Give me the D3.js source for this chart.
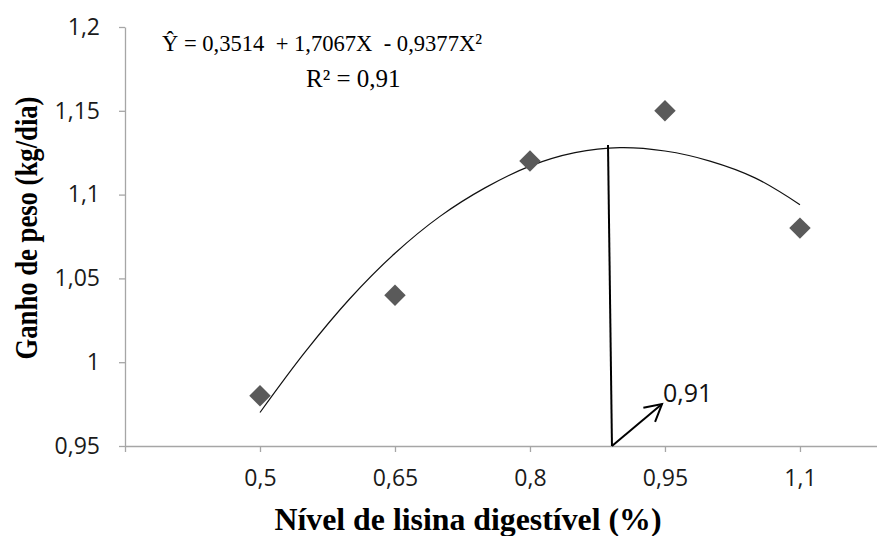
<!DOCTYPE html>
<html>
<head>
<meta charset="utf-8">
<script src="https://cdn.jsdelivr.net/npm/d3@7"></script>
<style>
  body { margin: 0; background: #fff; }
  svg { display: block; }
</style>
</head>
<body>
<div id="chart"></div>
<script>
// observed points
const lysine = [0.5, 0.65, 0.8, 0.95, 1.1];
const weightGain = [0.98, 1.04, 1.12, 1.15, 1.08];

// trendline
const trendX = [0.5, 0.55, 0.6, 0.65, 0.7, 0.75, 0.8, 0.85, 0.9, 0.95, 1.0, 1.05, 1.1];
const trendY = [0.970, 1.006, 1.038, 1.065, 1.087, 1.104, 1.117, 1.125, 1.128, 1.126, 1.120, 1.110, 1.094];

const xTicks = [0.35, 0.5, 0.65, 0.8, 0.95, 1.1];
const xTickLabels = ["", "0,5", "0,65", "0,8", "0,95", "1,1"];
const yTicks = [0.95, 1, 1.05, 1.1, 1.15, 1.2];
const yTickLabels = ["0,95", "1", "1,05", "1,1", "1,15", "1,2"];

// optimum annotation
const optLine = [[0.8867, 1.1296], [0.8911, 0.95]];
const optArrow = [[0.8911, 0.95], [0.9467, 0.975]];
const optLabel = "0,91";

const eqText = "Ŷ = 0,3514  + 1,7067X  - 0,9377X²";
const r2Text = "R² = 0,91";

const width = 877, height = 536;
const margin = { top: 27, right: 0, bottom: 90, left: 125 };

const svg = d3.select("#chart").append("svg")
    .attr("width", width)
    .attr("height", height);

svg.append("rect").attr("width", width).attr("height", height).attr("fill", "#fff");

const xScale = d3.scaleLinear()
    .domain([0.35, 1.1856])
    .range([margin.left, width - margin.right]);

const yScale = d3.scaleLinear()
    .domain([0.95, 1.2])
    .range([height - margin.bottom, margin.top]);

const axisColor = "#a6a6a6";
const tickFont = "'Open Sans', 'Noto Sans', sans-serif";

// x axis
const xAxis = d3.axisBottom(xScale)
    .tickValues(xTicks)
    .tickFormat((d, i) => xTickLabels[i])
    .tickSize(6)
    .tickPadding(18)
    .tickSizeOuter(0);

const gx = svg.append("g")
    .attr("class", "x-axis")
    .attr("transform", `translate(0,${yScale(0.95)})`)
    .call(xAxis);

// y axis
const yAxis = d3.axisLeft(yScale)
    .tickValues(yTicks)
    .tickFormat((d, i) => yTickLabels[i])
    .tickSize(6)
    .tickPadding(19)
    .tickSizeOuter(0);

const gy = svg.append("g")
    .attr("class", "y-axis")
    .attr("transform", `translate(${margin.left},0)`)
    .call(yAxis);

[gx, gy].forEach(g => {
  g.select(".domain").attr("stroke", axisColor).attr("stroke-width", 1.3);
  g.selectAll(".tick line").attr("stroke", axisColor).attr("stroke-width", 1.3);
  g.selectAll(".tick text")
    .attr("fill", "#1a1a1a")
    .style("font-family", tickFont)
    .style("font-size", "23px");
});

// trendline
const line = d3.line()
    .x(d => xScale(d[0]))
    .y(d => yScale(d[1]))
    .curve(d3.curveCatmullRom);

svg.append("path")
    .datum(trendX.map((x, i) => [x, trendY[i]]))
    .attr("fill", "none")
    .attr("stroke", "#111")
    .attr("stroke-width", 1.2)
    .attr("d", line);

// points
svg.selectAll(".pt")
    .data(lysine.map((x, i) => ({ x, y: weightGain[i] })))
    .enter().append("path")
    .attr("class", "pt")
    .attr("d", d3.symbol(d3.symbolSquare, 230))
    .attr("transform", d => `translate(${xScale(d.x)},${yScale(d.y)}) rotate(45)`)
    .attr("fill", "#5a5a5a");

// optimum line + arrow
svg.append("line")
    .attr("x1", xScale(optLine[0][0])).attr("y1", yScale(optLine[0][1]))
    .attr("x2", xScale(optLine[1][0])).attr("y2", yScale(optLine[1][1]))
    .attr("stroke", "#000").attr("stroke-width", 2);

const ax1 = xScale(optArrow[0][0]), ay1 = yScale(optArrow[0][1]);
const ax2 = xScale(optArrow[1][0]), ay2 = yScale(optArrow[1][1]);
svg.append("line")
    .attr("x1", ax1).attr("y1", ay1).attr("x2", ax2).attr("y2", ay2)
    .attr("stroke", "#000").attr("stroke-width", 2);

const ang = Math.atan2(ay2 - ay1, ax2 - ax1);
const headLen = 19, spread = 0.5;
svg.append("path")
    .attr("d", `M${ax2 - headLen * Math.cos(ang - spread)},${ay2 - headLen * Math.sin(ang - spread)}`
      + `L${ax2},${ay2}`
      + `L${ax2 - headLen * Math.cos(ang + spread)},${ay2 - headLen * Math.sin(ang + spread)}`)
    .attr("fill", "none")
    .attr("stroke", "#000")
    .attr("stroke-width", 2);

svg.append("text")
    .attr("x", ax2 + 1)
    .attr("y", ay2 - 2)
    .style("font-family", tickFont)
    .style("font-size", "25px")
    .attr("fill", "#111")
    .text(optLabel);

// equation
const serif = "'Liberation Serif', 'Times New Roman', serif";
svg.append("text")
    .attr("x", 162)
    .attr("y", 51)
    .style("font-family", serif)
    .style("font-size", "24px")
    .style("white-space", "pre")
    .attr("fill", "#000")
    .attr("textLength", 320)
    .attr("lengthAdjust", "spacingAndGlyphs")
    .text(eqText);

svg.append("text")
    .attr("x", 306)
    .attr("y", 87)
    .style("font-family", serif)
    .style("font-size", "25px")
    .attr("fill", "#000")
    .text(r2Text);

// axis titles
svg.append("text")
    .attr("text-anchor", "middle")
    .attr("x", 468)
    .attr("y", 530)
    .style("font-family", serif)
    .style("font-weight", "bold")
    .style("font-size", "31px")
    .attr("textLength", 387)
    .attr("lengthAdjust", "spacingAndGlyphs")
    .text("Nível de lisina digestível (%)");

svg.append("text")
    .attr("text-anchor", "middle")
    .attr("transform", `translate(37,228) rotate(-90)`)
    .style("font-family", serif)
    .style("font-weight", "bold")
    .style("font-size", "31px")
    .attr("textLength", 263)
    .attr("lengthAdjust", "spacingAndGlyphs")
    .text("Ganho de peso (kg/dia)");
</script>
</body>
</html>
